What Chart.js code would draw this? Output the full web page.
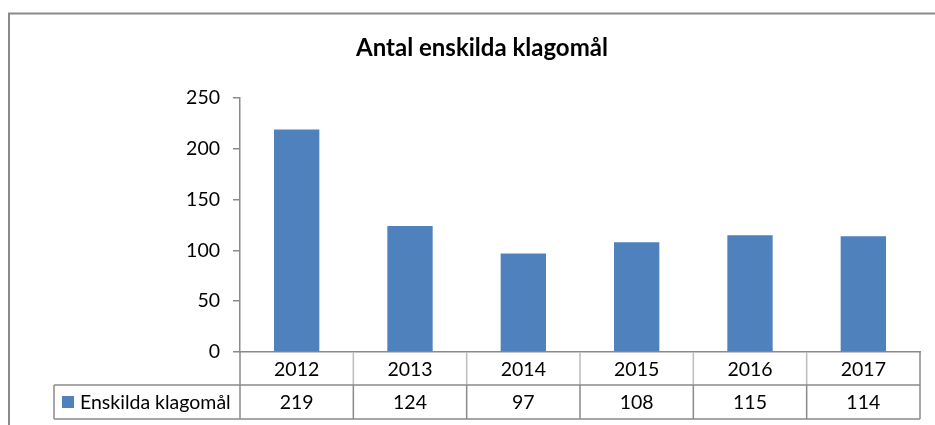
<!DOCTYPE html>
<html>
<head>
<meta charset="utf-8">
<script src="https://cdn.jsdelivr.net/npm/chart.js@4"></script>
<style>
  html, body { margin: 0; padding: 0; background: #ffffff; }
  #wrap { width: 935px; height: 425px; }
</style>
</head>
<body>
<div id="wrap"><canvas id="c" width="935" height="425"></canvas></div>
<script>
const chartTitle = "Antal enskilda klagomål";
const seriesName = "Enskilda klagomål";
const categories = ["2012", "2013", "2014", "2015", "2016", "2017"];
const seriesValues = [219, 124, 97, 108, 115, 114];
const yTickMin = 0;
const yTickMax = 250;
const yTickStep = 50;

const FONT = "Lato";
const GRAY = "#8a8a8a";
const LIGHT = "#bdbdbd";
const BAR = "#4f81bd";
const TXT = 19.5;

const dataTablePlugin = {
  id: "dataTable",
  afterDraw(chart) {
    const ctx = chart.ctx;
    const xs = chart.scales.x;
    const axisY = chart.chartArea.bottom;
    const row1 = axisY + 33;
    const row2 = row1 + 34;
    const legendLeft = 54;
    const n = categories.length;
    ctx.save();
    // outer chart border (top & left)
    ctx.strokeStyle = GRAY;
    ctx.lineWidth = 2;
    ctx.beginPath();
    ctx.moveTo(9, 425); ctx.lineTo(9, 13.5); ctx.lineTo(935, 13.5);
    ctx.stroke();

    // table lines
    ctx.lineWidth = 1.5;
    const bounds = [];
    for (let i = 0; i <= n; i++) bounds.push(xs.getPixelForValue(i - 0.5));
    ctx.strokeStyle = LIGHT;
    ctx.beginPath();
    for (let i = 1; i < n; i++) { ctx.moveTo(bounds[i], axisY); ctx.lineTo(bounds[i], row1); }
    ctx.stroke();
    ctx.strokeStyle = GRAY;
    ctx.beginPath();
    ctx.moveTo(bounds[0], axisY); ctx.lineTo(bounds[0], row2);
    ctx.moveTo(bounds[n], axisY); ctx.lineTo(bounds[n], row2);
    for (let i = 1; i < n; i++) { ctx.moveTo(bounds[i], row1); ctx.lineTo(bounds[i], row2); }
    ctx.moveTo(legendLeft, row1); ctx.lineTo(bounds[n], row1);
    ctx.moveTo(legendLeft, row2); ctx.lineTo(bounds[n], row2);
    ctx.moveTo(legendLeft, row1); ctx.lineTo(legendLeft, row2);
    ctx.stroke();

    // texts
    ctx.fillStyle = "#000";
    ctx.font = TXT + "px " + FONT;
    ctx.textAlign = "center";
    ctx.textBaseline = "middle";
    for (let i = 0; i < n; i++) {
      const cx = xs.getPixelForValue(i);
      ctx.fillText(categories[i], cx, (axisY + row1) / 2 + 1);
      ctx.fillText(String(seriesValues[i]), cx, (row1 + row2) / 2 + 1);
    }
    // legend key
    ctx.fillStyle = BAR;
    ctx.fillRect(62, (row1 + row2) / 2 - 6, 12, 12);
    ctx.fillStyle = "#000";
    ctx.textAlign = "left";
    ctx.fillText(seriesName, 80, (row1 + row2) / 2 + 1);
    ctx.restore();
  }
};

new Chart(document.getElementById("c"), {
  type: "bar",
  data: {
    labels: categories,
    datasets: [{
      label: seriesName,
      data: seriesValues,
      backgroundColor: BAR,
      borderWidth: 0,
      categoryPercentage: 1,
      barPercentage: 0.4
    }]
  },
  options: {
    responsive: false,
    animation: false,
    devicePixelRatio: 1,
    layout: { padding: { left: 44, right: 15, top: 0, bottom: 0 } },
    plugins: {
      legend: { display: false },
      tooltip: { enabled: false },
      title: {
        display: true,
        text: chartTitle,
        color: "#000",
        font: { family: FONT, size: 24, weight: "bold" },
        padding: { top: 34, bottom: 35.2 }
      }
    },
    scales: {
      x: {
        type: "category",
        offset: true,
        ticks: { display: false },
        grid: { display: false },
        border: { display: true, color: GRAY, width: 1.5 },
        afterFit(s) { s.height = 73; }
      },
      y: {
        min: yTickMin,
        max: yTickMax,
        ticks: {
          stepSize: yTickStep,
          color: "#000",
          font: { family: FONT, size: TXT },
          padding: 13
        },
        grid: { display: true, drawOnChartArea: false, drawTicks: true, tickLength: 7, color: GRAY, lineWidth: 1.5 },
        border: { display: true, color: GRAY, width: 1.5 },
        afterFit(s) { s.width = 196; }
      }
    }
  },
  plugins: [dataTablePlugin]
});
</script>
</body>
</html>
